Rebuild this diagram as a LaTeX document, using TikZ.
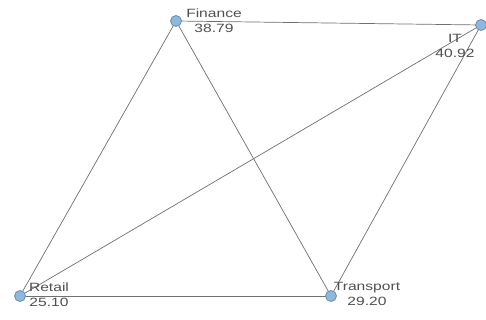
\documentclass[tikz,border=0pt]{standalone}
\usepackage{fontspec}
\usepackage{graphicx}
\setmainfont{Liberation Sans}
\definecolor{nodefill}{HTML}{8FB8DE}
\definecolor{nodedraw}{HTML}{6A8CAE}
\definecolor{edgecol}{HTML}{707070}
\definecolor{txtcol}{HTML}{505050}
\tikzset{
  vtx/.style={circle, fill=nodefill, draw=nodedraw, line width=0.8pt, minimum size=11pt, inner sep=0pt},
  edge/.style={draw=edgecol, line width=0.7pt},
  lbl/.style={text=txtcol, align=center, inner sep=0pt, font=\fontsize{12}{15}\selectfont}
}
\newcommand{\wid}[1]{\scalebox{1.3}[1]{#1}}
\begin{document}
\begin{tikzpicture}[x=1pt,y=-1pt]
\useasboundingbox (0,0) rectangle (486,320);
\fill[white] (0,0) rectangle (486,320);
\coordinate (pf) at (176,21);
\coordinate (pi) at (481,25);
\coordinate (pr) at (20,296);
\coordinate (pt) at (331,296);
\draw[edge] (pf) -- (pi);
\draw[edge] (pf) -- (pr);
\draw[edge] (pf) -- (pt);
\draw[edge] (pi) -- (pr);
\draw[edge] (pi) -- (pt);
\draw[edge] (pr) -- (pt);
\node[vtx] (finance) at (pf) {};
\node[vtx] (it) at (pi) {};
\node[vtx] (retail) at (pr) {};
\node[vtx] (transport) at (pt) {};
\node[lbl] (lf) at (214,21) {\wid{Finance}\\\wid{38.79}};
\node[lbl] (li) at (455,46) {\wid{IT}\\\wid{40.92}};
\node[lbl] (lr) at (49,295) {\wid{Retail}\\\wid{25.10}};
\node[lbl] (lt) at (367,294) {\wid{Transport}\\\wid{29.20}};
\end{tikzpicture}
\end{document}
